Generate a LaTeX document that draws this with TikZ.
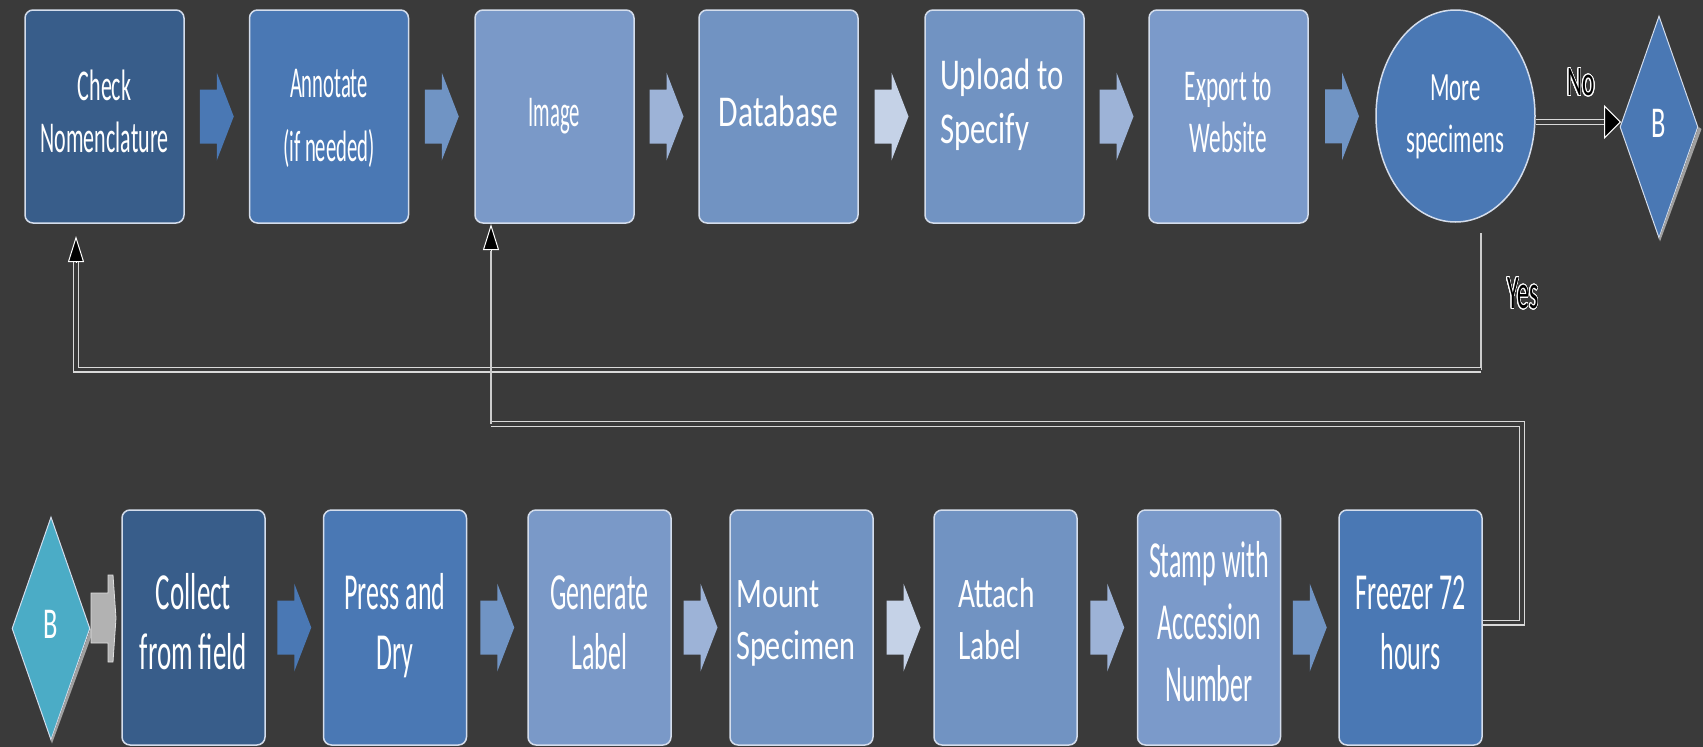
\documentclass[tikz,border=0pt]{standalone}
\usepackage{fontspec}
\setmainfont{Carlito}
\usepackage{graphicx}
\usepackage{contour}
\contourlength{1.2pt}
\contournumber{24}
\usetikzlibrary{shapes.geometric,arrows.meta,calc}

\definecolor{bgc}{HTML}{3A3A3A}
\definecolor{dk}{HTML}{385D8A}
\definecolor{md}{HTML}{4A78B4}
\definecolor{lta}{HTML}{7A99C8}
\definecolor{ltb}{HTML}{7193C2}
\definecolor{ltc}{HTML}{7B9ACA}
\definecolor{teal}{HTML}{4BACC6}
\definecolor{boxline}{HTML}{D4DDEC}
\definecolor{aa}{HTML}{4A78B4}
\definecolor{ab}{HTML}{7094C4}
\definecolor{ac}{HTML}{9DB3D7}
\definecolor{ad}{HTML}{C5D2E7}
\definecolor{pipec}{HTML}{D9D9D9}
\definecolor{shd}{HTML}{A0A0A0}

\newcommand{\lblC}[4]{\scalebox{#1}[1]{\fontsize{#2}{#3}\selectfont\begin{tabular}{@{}c@{}}#4\end{tabular}}}
\newcommand{\lblL}[4]{\scalebox{#1}[1]{\fontsize{#2}{#3}\selectfont\begin{tabular}{@{}l@{}}#4\end{tabular}}}

\tikzset{
  barr/.pic={\path[pic actions] (-17,-27) -- (0,-27) -- (0,-44) -- (17,0) -- (0,44) -- (0,27) -- (-17,27) -- cycle;},
  box/.style={draw=boxline, line width=1.5pt, rounded corners=8pt, minimum width=159pt, minimum height=213pt, inner sep=0pt, text=white},
  bbox/.style={draw=boxline, line width=1.5pt, rounded corners=8pt, minimum width=143pt, minimum height=235pt, inner sep=0pt, text=white},
  txt/.style={inner sep=0pt, text=white},
  dia/.style={diamond, draw=boxline, line width=1pt, inner sep=0pt, minimum width=78pt, minimum height=222pt, text=white},
  pipe/.style={draw=pipec, line width=1.2pt, double=bgc, double distance=3.6pt},
  wire/.style={draw=pipec!85!gray, line width=1.3pt},
  tip/.style={draw=white, line width=1pt, -{Triangle[length=26pt,width=16pt,fill=black]}},
  tipn/.style={draw=white, line width=1pt, -{Triangle[length=17pt,width=34pt,fill=black]}},
  yn/.style={inner sep=0pt, text=black}
}

\begin{document}
\begin{tikzpicture}[x=1pt,y=-1pt]
\fill[bgc] (0,0) rectangle (1703,747);
\useasboundingbox (0,0) rectangle (1703,747);

% top row
\node[box,fill=dk] (chk) at (104.5,116.5) {\lblC{0.5}{44}{52}{Check\\Nomenclature}};
\node[box,fill=md] (ann) at (329,116.5) {\lblC{0.47}{44}{64}{Annotate\\(if needed)}};
\node[box,fill=lta] (img) at (554.5,116.5) {\lblC{0.47}{44}{52}{Image}};
\node[box,fill=ltb] (db) at (778.5,116.5) {\raisebox{7pt}{\lblC{0.72}{44}{52}{Database}}};
\node[box,fill=ltb] (up) at (1004.5,116.5) {};
\node[txt,anchor=west] (upT) at (940,106) {\lblL{0.7}{44}{54}{Upload to\\Specify}};
\node[box,fill=ltc] (ex) at (1228.5,116.5) {\lblC{0.53}{44}{52}{Export to\\Website}};
\node[ellipse, draw=boxline, line width=1.5pt, fill=md, minimum width=159pt, minimum height=212pt, inner sep=0pt, text=white] (more) at (1455.5,116) {\lblC{0.57}{40}{52}{More\\specimens}};
\node[dia,fill=md] (bT) at (1659,127) {\lblC{0.6}{44}{52}{B}};
\fill[shd] (bT.east) -- ([xshift=3pt,yshift=-2pt]bT.east) -- ([xshift=1pt,yshift=-3pt]bT.south) -- (bT.south) -- cycle;

% top block arrows
\pic[fill=aa] at ($(chk.east)!0.5!(ann.west)$) {barr};
\pic[fill=ab] at ($(ann.east)!0.5!(img.west)$) {barr};
\pic[fill=ac] at ($(img.east)!0.5!(db.west)$) {barr};
\pic[fill=ad] at ($(db.east)!0.5!(up.west)$) {barr};
\pic[fill=ac] at ($(up.east)!0.5!(ex.west)$) {barr};
\pic[fill=ab] at ($(ex.east)!0.5!(more.west)$) {barr};

% bottom row
\node[dia,fill=teal,minimum height=223pt] (bB) at (51,628.5) {\lblC{0.6}{44}{52}{B}};
\fill[shd] (bB.east) -- ([xshift=3pt,yshift=-2pt]bB.east) -- ([xshift=1pt,yshift=-3pt]bB.south) -- (bB.south) -- cycle;
\node[bbox,fill=dk] (col) at (193.5,627.5) {\lblC{0.52}{52}{60}{Collect\\from field}};
\node[bbox,fill=md] (prs) at (395,627.5) {\lblC{0.5}{52}{60}{Press and\\Dry}};
\node[bbox,fill=lta] (gen) at (599.5,627.5) {\lblC{0.5}{52}{60}{Generate\\Label}};
\node[bbox,fill=ltb] (mnt) at (801.5,627.5) {};
\node[txt,anchor=west] (mntT) at (736,623) {\lblL{0.72}{42}{52}{Mount\\Specimen}};
\node[bbox,fill=ltb] (att) at (1005.5,627.5) {};
\node[txt,anchor=west] (attT) at (958,623) {\lblL{0.7}{42}{52}{Attach\\Label}};
\node[bbox,fill=ltc] (stp) at (1209,627.5) {\lblC{0.5}{52}{62}{Stamp with\\Accession\\Number}};
\node[bbox,fill=md] (frz) at (1410.5,627.5) {\lblC{0.5}{52}{60}{Freezer 72\\hours}};

% gray connector B -> Collect
\filldraw[fill=gray!60, draw=gray!25, line width=0.8pt] (91,593) -- (108,593) -- (108,575) -- (113,575) -- (116,618) -- (113,662) -- (108,662) -- (108,643) -- (91,643) -- cycle;

% bottom block arrows
\pic[fill=aa] at ($(col.east)!0.5!(prs.west)$) {barr};
\pic[fill=ab] at ($(prs.east)!0.5!(gen.west)$) {barr};
\pic[fill=ac] at ($(gen.east)!0.5!(mnt.west)$) {barr};
\pic[fill=ad] at ($(mnt.east)!0.5!(att.west)$) {barr};
\pic[fill=ac] at ($(att.east)!0.5!(stp.west)$) {barr};
\pic[fill=ab] at ($(stp.east)!0.5!(frz.west)$) {barr};

% No branch
\coordinate (n2) at (1604,122);
\coordinate (n3) at (1621,122);
\draw[pipe] ([yshift=-6pt]more.east) -- (n2);
\draw[tipn] (n2) -- (n3);
\node[yn] (no) at (1581,83) {\scalebox{0.56}[1]{\fontsize{42}{50}\selectfont\contour{white}{No}}};

% Yes loop
\coordinate (ys) at (1481,233);
\coordinate (y1) at (1481,369.5);
\coordinate (y2) at (76,369.5);
\coordinate (y3) at (76,262);
\coordinate (y4) at (76,236);
\draw[wire] (ys) -- (y1);
\draw[pipe] (y1) -- (y2) -- (y3);
\draw[tip] (y3) -- (y4);
\node[yn] (yes) at (1523,294) {\scalebox{0.5}[1]{\fontsize{48}{56}\selectfont\contour{white}{Yes}}};

% Freezer loop to Image
\coordinate (f1) at (1522,622.5);
\coordinate (f2) at (1522,424);
\coordinate (f3) at (491,424);
\coordinate (f4) at (491,251);
\coordinate (f5) at (491,224);
\draw[pipe] ([yshift=5pt]frz.east) -- (f1) -- (f2) -- (f3);
\draw[wire] (f3) -- (f4);
\draw[tip] (f4) -- (f5);
\end{tikzpicture}
\end{document}
